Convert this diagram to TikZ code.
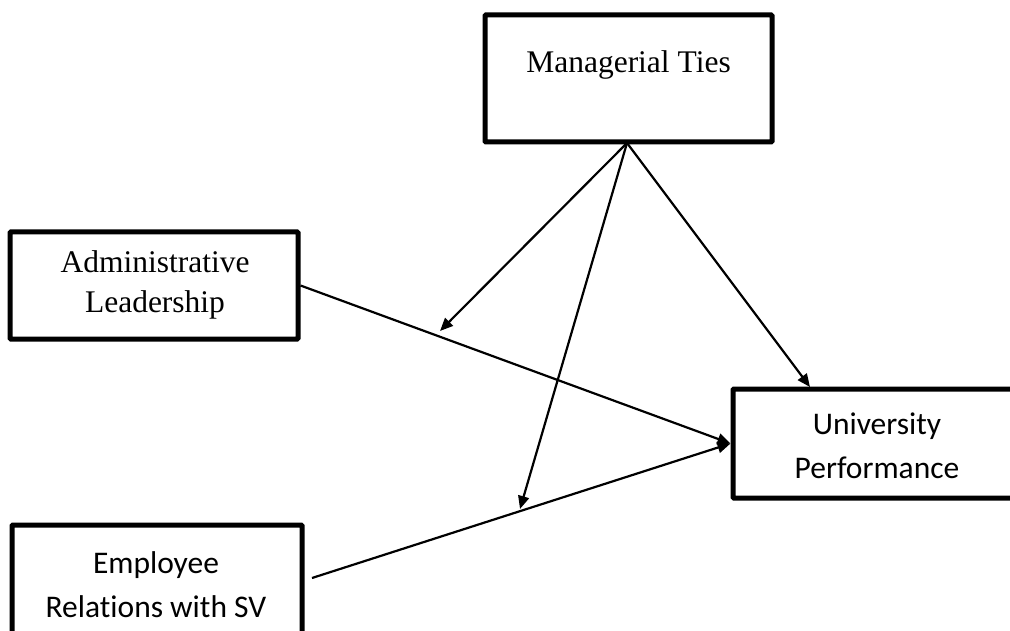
\documentclass[tikz,border=0pt]{standalone}
\usepackage{fontspec}
\setmainfont{Liberation Serif}
\newfontfamily\calib[Ligatures=NoCommon]{Carlito}
\usetikzlibrary{arrows.meta,calc}
\begin{document}
\begin{tikzpicture}[x=1pt,y=-1pt,
  boxnode/.style={draw=black,line width=5pt,rounded corners=1pt,inner sep=0pt,fill=white},
  serif/.style={font=\fontsize{31.5}{40}\selectfont,align=center,inner sep=0pt},
  sans/.style={font=\calib\fontsize{31.5}{44}\selectfont,align=center,inner sep=0pt},
  conn/.style={line width=2.2pt,-{Triangle[length=13pt,width=11pt]}}]
\useasboundingbox (0,0) rectangle (1010,631);
% boxes
\node[boxnode,minimum width=287pt,minimum height=127pt] (mt) at (628.5,78.5) {};
\node[serif] (mtt) at (628.5,65) {Managerial Ties};
\node[boxnode,minimum width=288pt,minimum height=107pt] (admin) at (154,285.5) {};
\node[serif] (admint) at (155,285) {Administrative\\Leadership};
\node[boxnode,minimum width=288pt,minimum height=109pt] (univ) at (877,443.5) {};
\node[sans] (univt) at (877,446) {University\\Performance};
\node[boxnode,minimum width=290pt,minimum height=112pt] (emp) at (157,581) {};
\node[sans] (empt) at (156,585) {Employee\\Relations with SV};
% coordinates
\coordinate (m0) at (627,143);
\coordinate (u0) at (810,387);
\coordinate (a1) at (440,331);
\coordinate (e0) at (312,578);
\coordinate (e1) at (520,509);
% connectors
\draw[conn] (admin.east) -- (univ.west);
\draw[conn] (e0) -- (univ.west);
\draw[conn] (m0) -- (u0);
\draw[conn] (m0) -- (a1);
\draw[conn] (m0) -- (e1);
\end{tikzpicture}
\end{document}
